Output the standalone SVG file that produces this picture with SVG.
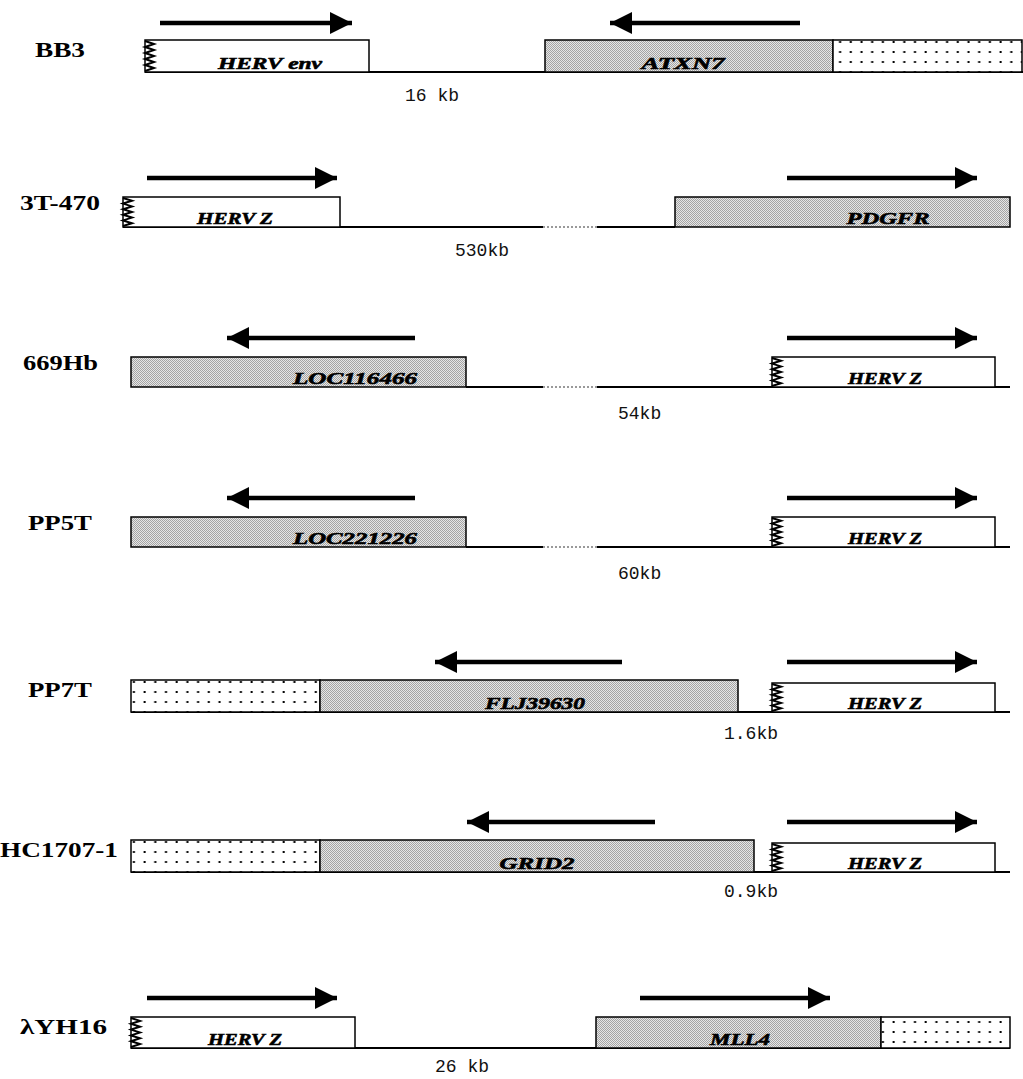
<svg xmlns="http://www.w3.org/2000/svg" width="1023" height="1079" viewBox="0 0 1023 1079">
<style>
.lbl{font-family:"Liberation Serif",serif;font-weight:bold;font-size:20px;fill:#000}
.kb{font-family:"Liberation Mono",monospace;font-size:18px;fill:#111}
.gene{font-family:"Liberation Serif",serif;font-weight:bold;font-style:italic;font-size:17px;fill:#000;stroke:#000;stroke-width:0.6;text-anchor:middle}
.box{stroke:#000;stroke-width:1.5}
.white{fill:#fff}
.gray{fill:url(#hatch)}
.dots{fill:url(#dotp)}
.base{stroke:#000;stroke-width:2;fill:none}
.gap{stroke:#999;stroke-width:2;stroke-dasharray:2 2;fill:none}
.arr{stroke:#000;stroke-width:4.5;fill:none;marker-end:url(#head)}
.zig{stroke:#000;stroke-width:2;fill:none}
</style>
<defs>
<pattern id="hatch" width="2" height="2" patternUnits="userSpaceOnUse">
<rect width="2" height="2" fill="#e6e6e6"/>
<rect width="1" height="1" fill="#a4a4a4"/>
<rect x="1" y="1" width="1" height="1" fill="#a4a4a4"/>
</pattern>
<pattern id="dotp" width="10.7" height="10" patternUnits="userSpaceOnUse">
<rect width="10.7" height="10" fill="#fff"/>
<rect x="4.5" y="1" width="2" height="2" fill="#000"/>
</pattern>
<marker id="head" markerUnits="userSpaceOnUse" markerWidth="24" markerHeight="22" refX="22" refY="11" orient="auto">
<path d="M0,0 L22,11 L0,22 Z" fill="#000"/>
</marker>
</defs>

<g id="row-BB3">
<text class="lbl" x="35" y="57" textLength="50" lengthAdjust="spacingAndGlyphs">BB3</text>
<path class="base" d="M145,72 H1023"/>
<rect class="box white" x="145" y="40" width="224" height="32"/>
<path class="zig" d="M145,41 l9,3 l-9,3 l9,3 l-9,3 l9,3 l-9,3 l9,3 l-9,3 l9,3 l-9,3"/>
<rect class="box gray" x="545" y="40" width="288" height="32"/>
<rect class="box dots" x="833" y="40" width="189" height="32"/>
<text class="gene" x="270" y="69" textLength="104" lengthAdjust="spacingAndGlyphs">HERV env</text>
<text class="gene" x="683" y="69" textLength="83" lengthAdjust="spacingAndGlyphs">ATXN7</text>
<text class="kb" x="405" y="101">16 kb</text>
</g>

<g id="row-3T-470">
<text class="lbl" x="20" y="210" textLength="80" lengthAdjust="spacingAndGlyphs">3T-470</text>
<path class="base" d="M123,227 H543 M597,227 H675"/>
<path class="gap" d="M543,227 H597"/>
<rect class="box white" x="123" y="197" width="217" height="30"/>
<path class="zig" d="M123,198 l9,2.8 l-9,2.8 l9,2.8 l-9,2.8 l9,2.8 l-9,2.8 l9,2.8 l-9,2.8 l9,2.8 l-9,2.8"/>
<rect class="box gray" x="675" y="197" width="335" height="30"/>
<text class="gene" x="235" y="224" textLength="76" lengthAdjust="spacingAndGlyphs">HERV Z</text>
<text class="gene" x="888" y="224" textLength="83" lengthAdjust="spacingAndGlyphs">PDGFR</text>
<text class="kb" x="455" y="256">530kb</text>
</g>

<g id="row-669Hb">
<text class="lbl" x="23" y="370" textLength="75" lengthAdjust="spacingAndGlyphs">669Hb</text>
<path class="base" d="M466,387 H543 M597,387 H1010"/>
<path class="gap" d="M543,387 H597"/>
<rect class="box gray" x="131" y="357" width="335" height="30"/>
<rect class="box white" x="772" y="357" width="223" height="30"/>
<path class="zig" d="M772,358 l9,2.8 l-9,2.8 l9,2.8 l-9,2.8 l9,2.8 l-9,2.8 l9,2.8 l-9,2.8 l9,2.8 l-9,2.8"/>
<text class="gene" x="355" y="384" textLength="124" lengthAdjust="spacingAndGlyphs">LOC116466</text>
<text class="gene" x="885" y="384" textLength="74" lengthAdjust="spacingAndGlyphs">HERV Z</text>
<text class="kb" x="618" y="419">54kb</text>
</g>

<g id="row-PP5T">
<text class="lbl" x="28" y="530" textLength="64" lengthAdjust="spacingAndGlyphs">PP5T</text>
<path class="base" d="M466,547 H543 M597,547 H1010"/>
<path class="gap" d="M543,547 H597"/>
<rect class="box gray" x="131" y="517" width="335" height="30"/>
<rect class="box white" x="772" y="517" width="223" height="30"/>
<path class="zig" d="M772,518 l9,2.8 l-9,2.8 l9,2.8 l-9,2.8 l9,2.8 l-9,2.8 l9,2.8 l-9,2.8 l9,2.8 l-9,2.8"/>
<text class="gene" x="355" y="544" textLength="124" lengthAdjust="spacingAndGlyphs">LOC221226</text>
<text class="gene" x="885" y="544" textLength="74" lengthAdjust="spacingAndGlyphs">HERV Z</text>
<text class="kb" x="618" y="579">60kb</text>
</g>

<g id="row-PP7T">
<text class="lbl" x="28" y="697" textLength="64" lengthAdjust="spacingAndGlyphs">PP7T</text>
<path class="base" d="M131,712 H1010"/>
<rect class="box dots" x="131" y="680" width="189" height="32"/>
<rect class="box gray" x="320" y="680" width="418" height="32"/>
<rect class="box white" x="772" y="683" width="223" height="29"/>
<path class="zig" d="M772,684 l9,2.7 l-9,2.7 l9,2.7 l-9,2.7 l9,2.7 l-9,2.7 l9,2.7 l-9,2.7 l9,2.7 l-9,2.7"/>
<text class="gene" x="535" y="709" textLength="100" lengthAdjust="spacingAndGlyphs">FLJ39630</text>
<text class="gene" x="885" y="709" textLength="74" lengthAdjust="spacingAndGlyphs">HERV Z</text>
<text class="kb" x="724" y="739">1.6kb</text>
</g>

<g id="row-HC1707-1">
<text class="lbl" x="0" y="857" textLength="118" lengthAdjust="spacingAndGlyphs">HC1707-1</text>
<path class="base" d="M131,872 H1010"/>
<rect class="box dots" x="131" y="840" width="189" height="32"/>
<rect class="box gray" x="320" y="840" width="434" height="32"/>
<rect class="box white" x="772" y="843" width="223" height="29"/>
<path class="zig" d="M772,844 l9,2.7 l-9,2.7 l9,2.7 l-9,2.7 l9,2.7 l-9,2.7 l9,2.7 l-9,2.7 l9,2.7 l-9,2.7"/>
<text class="gene" x="537" y="869" textLength="75" lengthAdjust="spacingAndGlyphs">GRID2</text>
<text class="gene" x="885" y="869" textLength="74" lengthAdjust="spacingAndGlyphs">HERV Z</text>
<text class="kb" x="724" y="897">0.9kb</text>
</g>

<g id="row-YH16">
<text class="lbl" x="20" y="1034" textLength="87" lengthAdjust="spacingAndGlyphs">λYH16</text>
<path class="base" d="M131,1048 H1010"/>
<rect class="box white" x="131" y="1017" width="224" height="31"/>
<path class="zig" d="M131,1018 l9,2.9 l-9,2.9 l9,2.9 l-9,2.9 l9,2.9 l-9,2.9 l9,2.9 l-9,2.9 l9,2.9 l-9,2.9"/>
<rect class="box gray" x="596" y="1017" width="285" height="31"/>
<rect class="box dots" x="881" y="1017" width="129" height="31"/>
<text class="gene" x="245" y="1045" textLength="74" lengthAdjust="spacingAndGlyphs">HERV Z</text>
<text class="gene" x="740" y="1045" textLength="60" lengthAdjust="spacingAndGlyphs">MLL4</text>
<text class="kb" x="435" y="1072">26 kb</text>
</g>

<g id="connectors">
<path class="arr" d="M160,23 H352"/>
<path class="arr" d="M800,23 H610"/>
<path class="arr" d="M147,178 H337"/>
<path class="arr" d="M787,178 H977"/>
<path class="arr" d="M415,338 H227"/>
<path class="arr" d="M787,338 H977"/>
<path class="arr" d="M415,498 H227"/>
<path class="arr" d="M787,498 H977"/>
<path class="arr" d="M622,662 H435"/>
<path class="arr" d="M787,662 H977"/>
<path class="arr" d="M655,822 H467"/>
<path class="arr" d="M787,822 H977"/>
<path class="arr" d="M147,998 H337"/>
<path class="arr" d="M640,998 H830"/>
</g>
</svg>
